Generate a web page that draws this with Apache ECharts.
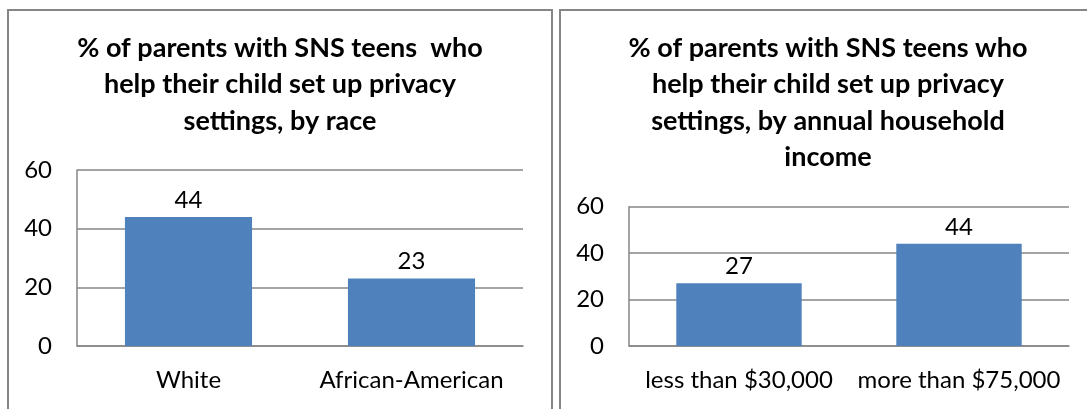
<!DOCTYPE html>
<html>
<head>
<meta charset="utf-8">
<title>Parents helping teens with privacy settings</title>
<script src="https://cdn.jsdelivr.net/npm/echarts@6/dist/echarts.min.js"></script>
<style>
  html, body { margin: 0; padding: 0; background: #ffffff; }
  #chart { width: 1087px; height: 409px; }
</style>
</head>
<body>
<div id="chart"></div>
<script>
// Share of parents (with SNS-using teens) who help set up privacy settings
const raceTitle = '% of parents with SNS teens  who\nhelp their child set up privacy\nsettings, by race';
const raceCategories = ['White', 'African-American'];
const raceValues = [44, 23];

const incomeTitle = '% of parents with SNS teens who\nhelp their child set up privacy\nsettings, by annual household\nincome';
const incomeCategories = ['less than $30,000', 'more than $75,000'];
const incomeValues = [27, 44];

// Value axis range shared by both panels
const axisMin = 0;
const axisMax = 60;
const axisStep = 20;

const FONT = 'Lato, "Open Sans", sans-serif';
const GRID_GRAY = '#868686';
const BAR_BLUE = '#4F81BD';
const LABEL_SIZE = 24;

function valueAxis(gridIndex) {
  return {
    type: 'value', gridIndex: gridIndex,
    min: axisMin, max: axisMax, interval: axisStep,
    axisLine: { show: true, lineStyle: { color: GRID_GRAY, width: 1.5 } },
    axisTick: { show: false },
    axisLabel: { color: '#000', fontFamily: FONT, fontSize: LABEL_SIZE, margin: 25 },
    splitLine: { show: true, lineStyle: { color: GRID_GRAY, width: 1.5 } }
  };
}

function categoryAxis(gridIndex, cats) {
  return {
    type: 'category', gridIndex: gridIndex, data: cats,
    axisLine: { show: true, lineStyle: { color: GRID_GRAY, width: 1.5 } },
    axisTick: { show: false },
    axisLabel: { color: '#000', fontFamily: FONT, fontSize: LABEL_SIZE, margin: 22, interval: 0, hideOverlap: false }
  };
}

function barSeries(idx, values) {
  return {
    type: 'bar', xAxisIndex: idx, yAxisIndex: idx, data: values,
    barWidth: '57%',
    itemStyle: { color: BAR_BLUE },
    label: { show: true, position: 'top', distance: 5, color: '#000', fontFamily: FONT, fontSize: LABEL_SIZE },
    animation: false
  };
}

const titleStyle = { fontFamily: FONT, fontWeight: 'bold', fontSize: 27, lineHeight: 36.5, color: '#000' };

const chart = echarts.init(document.getElementById('chart'), null, { renderer: 'canvas' });

chart.setOption({
  animation: false,
  backgroundColor: '#ffffff',
  title: [
    { text: raceTitle, left: 280, top: 30, padding: 0, textAlign: 'center', textStyle: titleStyle },
    { text: incomeTitle, left: 828, top: 30, padding: 0, textAlign: 'center', textStyle: titleStyle }
  ],
  graphic: [
    { type: 'rect', shape: { x: 8, y: 10, width: 544, height: 420 },
      style: { fill: 'none', stroke: GRID_GRAY, lineWidth: 2 }, silent: true },
    { type: 'rect', shape: { x: 560, y: 10, width: 540, height: 420 },
      style: { fill: 'none', stroke: GRID_GRAY, lineWidth: 2 }, silent: true }
  ],
  grid: [
    { left: 77, top: 170, width: 446, height: 176 },
    { left: 629, top: 206.7, width: 440, height: 139.3 }
  ],
  xAxis: [categoryAxis(0, raceCategories), categoryAxis(1, incomeCategories)],
  yAxis: [valueAxis(0), valueAxis(1)],
  series: [barSeries(0, raceValues), barSeries(1, incomeValues)]
});
</script>
</body>
</html>
